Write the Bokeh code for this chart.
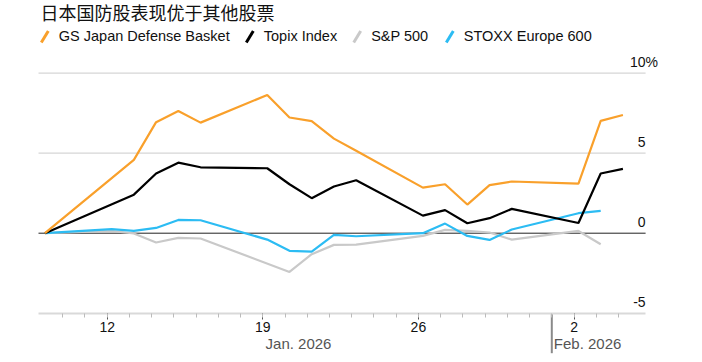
import pandas as pd
from bokeh.plotting import figure
from bokeh.layouts import column
from bokeh.models import Range1d, FixedTicker, LinearAxis
from bokeh.core.properties import value
from bokeh.embed import file_html
from bokeh.resources import INLINE

# ---------------- data ----------------
title = "日本国防股表现优于其他股票"
series_names = ["GS Japan Defense Basket", "Topix Index", "S&P 500", "STOXX Europe 600"]
colors = ["#f9a02b", "#000000", "#c9c9c9", "#2cbcf3"]

jp_dates = ["2026-01-09", "2026-01-13", "2026-01-14", "2026-01-15", "2026-01-16",
            "2026-01-19", "2026-01-20", "2026-01-21", "2026-01-22", "2026-01-23",
            "2026-01-26", "2026-01-27", "2026-01-28", "2026-01-29", "2026-01-30",
            "2026-02-02", "2026-02-03", "2026-02-04"]
gs_defense = [0.0, 4.58, 6.94, 7.64, 6.91, 8.64, 7.23, 7.00, 5.91, 5.15,
              2.85, 3.06, 1.79, 3.00, 3.23, 3.10, 7.02, 7.39]
topix = [0.0, 2.41, 3.73, 4.41, 4.12, 4.06, 3.06, 2.19, 2.92, 3.31,
         1.10, 1.44, 0.62, 0.94, 1.52, 0.64, 3.73, 4.02]

stoxx_dates = ["2026-01-09", "2026-01-12", "2026-01-13", "2026-01-14", "2026-01-15",
               "2026-01-16", "2026-01-19", "2026-01-20", "2026-01-21", "2026-01-22",
               "2026-01-23", "2026-01-26", "2026-01-27", "2026-01-28", "2026-01-29",
               "2026-01-30", "2026-02-02", "2026-02-03"]
stoxx600 = [0.0, 0.25, 0.14, 0.33, 0.83, 0.81, -0.40, -1.10, -1.15, -0.10,
            -0.19, 0.0, 0.60, -0.17, -0.42, 0.23, 1.25, 1.39]

spx_dates = ["2026-01-09", "2026-01-12", "2026-01-13", "2026-01-14", "2026-01-15",
             "2026-01-16", "2026-01-20", "2026-01-21", "2026-01-22",
             "2026-01-23", "2026-01-26", "2026-01-27", "2026-01-28", "2026-01-29",
             "2026-01-30", "2026-02-02", "2026-02-03"]
spx500 = [0.0, 0.15, -0.02, -0.58, -0.29, -0.33, -2.42, -1.31, -0.73,
          -0.71, -0.17, 0.21, 0.14, 0.04, -0.40, 0.14, -0.69]

y_ticks = [-5, 0, 5, 10]
y_tick_labels = ["-5", "0", "5", "10"]
x_tick_dates = ["2026-01-12", "2026-01-19", "2026-01-26", "2026-02-02"]
month_names = ["Jan. 2026", "Feb. 2026"]
month_start_feb = "2026-02-01"

# ---------------- helpers ----------------
EPOCH = pd.Timestamp("2025-12-31")
SESSION = 0.2  # intraday offset of the close marks


def day_num(ds):
    return [(pd.Timestamp(d) - EPOCH).days for d in ds]


FONT = "Liberation Sans"
W = 690
H_HEAD = 52
H_MAIN = 302

# ---------------- header (title + legend) ----------------
h = figure(width=W, height=H_HEAD, x_range=Range1d(0, W), y_range=Range1d(H_HEAD, 0),
           min_border=0, toolbar_location=None, output_backend="svg",
           x_axis_location=None, y_axis_location=None)
h.outline_line_color = None
h.grid.visible = False
h.text(x=[40], y=[11.6], text=[title], text_font=value("Noto Sans CJK SC"),
       text_font_size="18px", text_baseline="middle", text_color="#111111")
leg_x = [58.3, 263.3, 370.7, 463.3]
h.segment(x0=[x - 17.5 for x in leg_x], y0=[42] * 4, x1=[x - 10.5 for x in leg_x],
          y1=[30.5] * 4, line_color=colors, line_width=3)
h.text(x=leg_x, y=[35.9] * 4, text=series_names, text_font=value(FONT),
       text_font_size="14.5px", text_baseline="middle", text_color="#111111")

# ---------------- main chart (frame fills the canvas) ----------------
PX_DAY = 22.23         # pixels per day
PX_UNIT = 16.0         # pixels per percentage point
LEFT = 38              # left edge of plot area inside canvas
TOP = 20.7             # pixel position of the top gridline
x_start, x_end = 8.91, 36.22
y_lo, y_hi = y_ticks[0], y_ticks[-1]
xr = Range1d(x_start - LEFT / PX_DAY, x_start - LEFT / PX_DAY + W / PX_DAY)
yr = Range1d(y_hi - (H_MAIN - TOP) / PX_UNIT, y_hi + TOP / PX_UNIT)

p = figure(width=W, height=H_MAIN, x_range=xr, y_range=yr, min_border=0,
           output_backend="svg", toolbar_location=None,
           x_axis_location=None, y_axis_location=None)
p.outline_line_color = None
p.grid.visible = False

# horizontal gridlines (within plot area)
grid_y = [t for t in y_ticks if t not in (0, y_lo)]
p.segment(x0=[x_start] * len(grid_y), y0=grid_y, x1=[x_end] * len(grid_y), y1=grid_y,
          line_color="#d6d6d6", line_width=1.2)
p.segment(x0=[x_start], y0=[0], x1=[x_end], y1=[0], line_color="#222222", line_width=1)

# x axis drawn at the bottom gridline
ticks = day_num(x_tick_dates)
ax = LinearAxis(fixed_location=y_lo, bounds=(x_start, x_end))
ax.ticker = FixedTicker(ticks=ticks, minor_ticks=list(range(10, 36)))
ax.major_label_overrides = {t: str(pd.Timestamp(d).day) for t, d in zip(ticks, x_tick_dates)}
ax.axis_line_color = "#d9d9d9"
ax.axis_line_width = 2
ax.major_tick_in = 0
ax.major_tick_out = 6
ax.major_tick_line_color = "#555555"
ax.minor_tick_in = 0
ax.minor_tick_out = 4
ax.minor_tick_line_color = "#bbbbbb"
ax.major_label_text_font = FONT
ax.major_label_text_font_size = "14px"
ax.major_label_text_color = "#111111"
ax.major_label_standoff = 3
p.add_layout(ax, "below")

series = [(spx_dates, spx500, 2), (stoxx_dates, stoxx600, 3),
          (jp_dates, topix, 1), (jp_dates, gs_defense, 0)]
for ds, vals, ci in series:
    xs = [d + SESSION for d in day_num(ds)]
    p.line(xs, vals, line_color=colors[ci], line_width=2.2)

# y tick labels inside the plot on the right
lab_dy = 11.5 / PX_UNIT
p.text(x=[x_end] * len(y_ticks), y=[t + lab_dy for t in y_ticks], text=y_tick_labels,
       text_align="right", text_baseline="middle", text_font=value(FONT),
       text_font_size="14px", text_color="#111111")
p.text(x=[x_end], y=[y_hi + lab_dy], text=["%"], text_align="left",
       text_baseline="middle", text_font=value(FONT),
       text_font_size="14px", text_color="#111111")

# month labels and separator
feb = day_num([month_start_feb])[0]
p.segment(x0=[feb], y0=[y_lo], x1=[feb], y1=[y_lo - 40 / PX_UNIT],
          line_color="#8a8a8a", line_width=2)
month_y = y_lo - 30.5 / PX_UNIT
p.text(x=[(x_start + feb) / 2 + 0.15], y=[month_y], text=[month_names[0]],
       text_align="center", text_baseline="middle", text_font=value(FONT),
       text_font_size="15px", text_color="#555555")
p.text(x=[feb + 2.0 / PX_DAY], y=[month_y], text=[month_names[1]],
       text_align="left", text_baseline="middle", text_font=value(FONT),
       text_font_size="15px", text_color="#555555")

layout = column(h, p, spacing=0)
open("out.html", "w").write(file_html(layout, INLINE))
